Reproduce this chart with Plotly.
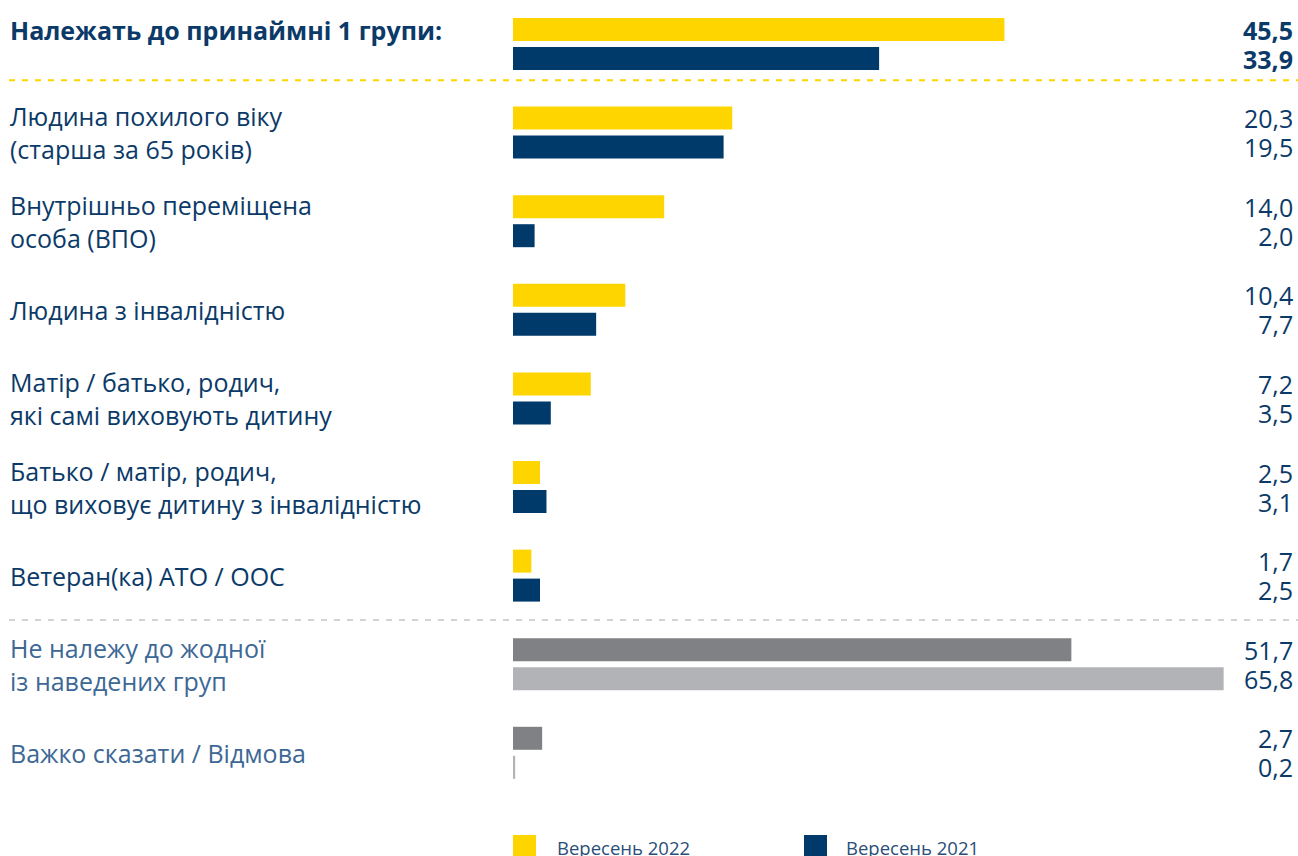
import plotly.graph_objects as go

# ---- data ----
categories = [
    "<b>Належать до принаймні 1 групи:</b>",
    "Людина похилого віку<br>(старша за 65 років)",
    "Внутрішньо переміщена<br>особа (ВПО)",
    "Людина з інвалідністю",
    "Матір / батько, родич,<br>які самі виховують дитину",
    "Батько / матір, родич,<br>що виховує дитину з інвалідністю",
    "Ветеран(ка) АТО / ООС",
    "Не належу до жодної<br>із наведених груп",
    "Важко сказати / Відмова",
]
sep2022 = [45.5, 20.3, 14.0, 10.4, 7.2, 2.5, 1.7, 51.7, 2.7]
sep2021 = [33.9, 19.5, 2.0, 7.7, 3.5, 3.1, 2.5, 65.8, 0.2]
series_names = ["Вересень 2022", "Вересень 2021"]

# ---- styling ----
YELLOW = "#FFD500"
NAVY = "#003A6A"
DGRAY = "#808184"
LGRAY = "#B1B3B6"
TXT = "#0B3A68"
SLATE = "#3D6895"
FONT = "Open Sans"
FS = 25

W, H = 1298, 856
L, R, T, B = 513, 3, 10, 56
PW = W - L - R
PH = H - T - B
PX_PER_UNIT_Y = 88.6
PX_PER_UNIT_X = 10.8
GC0 = 44  # pixel centre of first group
y_top = (T - GC0) / PX_PER_UNIT_Y
y_bot = y_top + PH / PX_PER_UNIT_Y
x_max = PW / PX_PER_UNIT_X

n = len(categories)
pos = list(range(n))
gray_rows = {7, 8}
col22 = [DGRAY if i in gray_rows else YELLOW for i in pos]
col21 = [LGRAY if i in gray_rows else NAVY for i in pos]

bw = 23 / PX_PER_UNIT_Y
off_a = -26 / PX_PER_UNIT_Y
off_b = 3 / PX_PER_UNIT_Y
vc = 14.5 / PX_PER_UNIT_Y

fig = go.Figure()
fig.add_trace(go.Bar(y=pos, x=sep2022, orientation="h", name=series_names[0],
                     marker=dict(color=col22, line=dict(width=0)),
                     width=bw, offset=off_a, showlegend=False, hoverinfo="x"))
fig.add_trace(go.Bar(y=pos, x=sep2021, orientation="h", name=series_names[1],
                     marker=dict(color=col21, line=dict(width=0)),
                     width=bw, offset=off_b, showlegend=False, hoverinfo="x"))

def fmt(v):
    return f"{v:.1f}".replace(".", ",")

def px_x(px):
    return (px - L) / PW

def px_y(py):
    return (T + PH - py) / PH

ann = []
lab_x = px_x(8)
for i, c in enumerate(categories):
    color = SLATE if i in gray_rows else TXT
    yy = -vc if i == 0 else i
    ann.append(dict(x=lab_x, xref="paper", y=yy, yref="y", text=c, showarrow=False,
                    xanchor="left", yanchor="middle", align="left",
                    font=dict(family=FONT, size=FS, color=color)))
    a, b = fmt(sep2022[i]), fmt(sep2021[i])
    if i == 0:
        a, b = f"<b>{a}</b>", f"<b>{b}</b>"
    sp = f'<span style="font-size:{FS}px">'
    txt = f"{sp}{a}</span><br>{sp}{b}</span>"
    # line spacing 1.3 * 22.3 = 29px, matching the bar pair spacing
    ann.append(dict(x=1, xref="paper", y=i, yref="y", text=txt, showarrow=False,
                    xanchor="right", yanchor="middle", align="right",
                    font=dict(family=FONT, size=22.3, color=TXT)))

shapes = []
line_x0 = px_x(9)
line_x1 = px_x(W)
yl1 = (80.3 - GC0) / PX_PER_UNIT_Y
yl2 = (620 - GC0) / PX_PER_UNIT_Y
shapes.append(dict(type="line", xref="paper", yref="y", x0=line_x0, x1=line_x1,
                   y0=yl1, y1=yl1, line=dict(color=YELLOW, width=2, dash="6px,7px")))
shapes.append(dict(type="line", xref="paper", yref="y", x0=line_x0, x1=line_x1,
                   y0=yl2, y1=yl2, line=dict(color="#D1D3D4", width=2, dash="6px,7px")))

# legend drawn manually
for (x0, x1, tx), color, name in (((513, 536, 555), YELLOW, series_names[0]),
                                  ((804, 827, 844), NAVY, series_names[1])):
    shapes.append(dict(type="rect", xref="paper", yref="paper",
                       x0=px_x(x0), x1=px_x(x1), y0=px_y(858), y1=px_y(835),
                       fillcolor=color, line=dict(width=0)))
    ann.append(dict(x=px_x(tx), xref="paper", y=px_y(847), yref="paper", text=name,
                    showarrow=False, xanchor="left", yanchor="middle",
                    font=dict(family=FONT, size=18.5, color="#2A4E78")))

fig.update_layout(
    width=W, height=H,
    margin=dict(l=L, r=R, t=T, b=B),
    paper_bgcolor="white", plot_bgcolor="white",
    barmode="overlay",
    xaxis=dict(range=[0, x_max], visible=False, fixedrange=True),
    yaxis=dict(range=[y_bot - 0, y_top], visible=False, fixedrange=True),
    annotations=ann, shapes=shapes,
    showlegend=False,
)
fig.write_html("out.html",
               config={"displayModeBar": False},
               post_script="document.body.style.margin='0';document.body.style.overflow='hidden';")
